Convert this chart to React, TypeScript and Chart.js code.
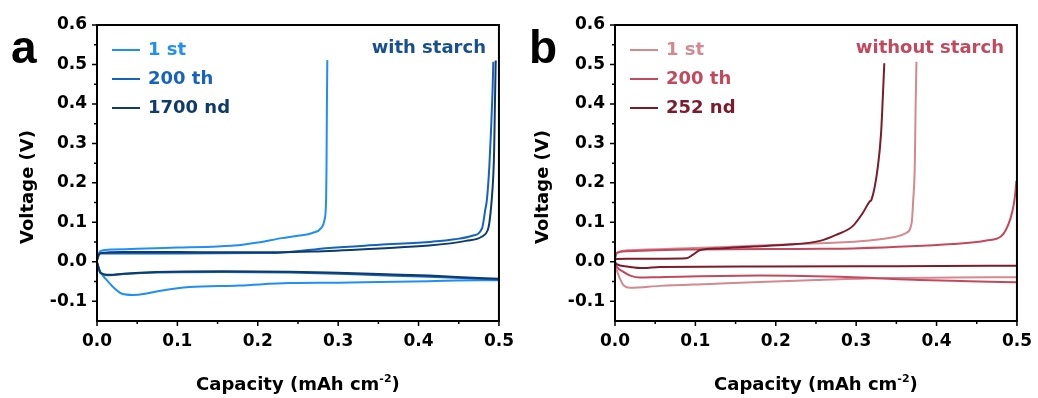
import React, { useEffect, useRef } from 'react';
import { Chart, registerables } from 'chart.js';
Chart.register(...registerables);

// ---- axis ticks ----
const xTicks = [0, 0.1, 0.2, 0.3, 0.4, 0.5];
const xMinor = [0.05, 0.15, 0.25, 0.35, 0.45];
const yTicks = [-0.1, 0, 0.1, 0.2, 0.3, 0.4, 0.5, 0.6];
const yMinor = [-0.05, 0.05, 0.15, 0.25, 0.35, 0.45, 0.55];

// ---- panel a (with starch) ----
const a1ChargeCap = [0, 0.002, 0.004, 0.02, 0.05, 0.1, 0.15, 0.17, 0.2, 0.23, 0.25, 0.268, 0.279, 0.283, 0.285, 0.2855, 0.286, 0.2865];
const a1ChargeV = [0.006, 0.02, 0.027, 0.031, 0.033, 0.036, 0.039, 0.041, 0.049, 0.06, 0.066, 0.073, 0.086, 0.106, 0.157, 0.24, 0.4, 0.511];
const a1DisCap = [0, 0.002, 0.004, 0.012, 0.02, 0.031, 0.045, 0.06, 0.074, 0.1, 0.115, 0.177, 0.239, 0.3, 0.351, 0.413, 0.475, 0.5];
const a1DisV = [-0.002, -0.014, -0.025, -0.046, -0.064, -0.081, -0.084, -0.081, -0.075, -0.067, -0.064, -0.06, -0.054, -0.053, -0.051, -0.049, -0.047, -0.047];

const a200ChargeCap = [0, 0.002, 0.005, 0.03, 0.1, 0.2, 0.227, 0.289, 0.351, 0.417, 0.445, 0.467, 0.479, 0.483, 0.485, 0.488, 0.49, 0.492, 0.493];
const a200ChargeV = [0.004, 0.016, 0.021, 0.021, 0.021, 0.022, 0.023, 0.035, 0.043, 0.051, 0.057, 0.066, 0.085, 0.132, 0.157, 0.24, 0.326, 0.43, 0.507];
const a200DisCap = [0, 0.002, 0.004, 0.016, 0.033, 0.074, 0.157, 0.239, 0.3, 0.351, 0.413, 0.475, 0.5];
const a200DisV = [-0.002, -0.016, -0.028, -0.034, -0.031, -0.027, -0.026, -0.027, -0.03, -0.034, -0.038, -0.043, -0.045];

const a1700ChargeCap = [0, 0.002, 0.004, 0.033, 0.1, 0.157, 0.227, 0.268, 0.351, 0.413, 0.459, 0.479, 0.486, 0.488, 0.491, 0.493, 0.494, 0.495, 0.496];
const a1700ChargeV = [0.004, 0.017, 0.022, 0.025, 0.025, 0.024, 0.024, 0.026, 0.034, 0.041, 0.053, 0.064, 0.08, 0.098, 0.157, 0.22, 0.28, 0.4, 0.51];
const a1700DisCap = [0, 0.002, 0.004, 0.016, 0.033, 0.074, 0.157, 0.239, 0.3, 0.351, 0.413, 0.475, 0.5];
const a1700DisV = [-0.002, -0.015, -0.027, -0.033, -0.03, -0.026, -0.024, -0.025, -0.028, -0.031, -0.035, -0.041, -0.043];

// ---- panel b (without starch) ----
const b1ChargeCap = [0, 0.002, 0.015, 0.097, 0.18, 0.255, 0.317, 0.346, 0.362, 0.369, 0.371, 0.373, 0.374, 0.375];
const b1ChargeV = [0.008, 0.022, 0.029, 0.035, 0.041, 0.047, 0.054, 0.062, 0.073, 0.098, 0.157, 0.25, 0.4, 0.507];
const b1DisCap = [0, 0.002, 0.005, 0.01, 0.019, 0.056, 0.118, 0.18, 0.255, 0.338, 0.42, 0.5];
const b1DisV = [-0.002, -0.02, -0.037, -0.058, -0.066, -0.061, -0.056, -0.051, -0.046, -0.041, -0.04, -0.039];

const b200ChargeCap = [0, 0.002, 0.015, 0.089, 0.255, 0.296, 0.42, 0.462, 0.48, 0.486, 0.492, 0.496, 0.498, 0.4993];
const b200ChargeV = [0.01, 0.022, 0.027, 0.031, 0.033, 0.034, 0.045, 0.054, 0.064, 0.08, 0.11, 0.145, 0.175, 0.205];
const b200DisCap = [0, 0.002, 0.01, 0.019, 0.031, 0.056, 0.18, 0.296, 0.379, 0.44, 0.5];
const b200DisV = [-0.002, -0.012, -0.025, -0.035, -0.04, -0.039, -0.035, -0.039, -0.046, -0.049, -0.052];

const b252ChargeCap = [0, 0.002, 0.015, 0.06, 0.089, 0.097, 0.106, 0.13, 0.172, 0.213, 0.255, 0.275, 0.296, 0.308, 0.317, 0.319, 0.327, 0.331, 0.333, 0.335];
const b252ChargeV = [0.004, 0.007, 0.008, 0.008, 0.009, 0.018, 0.03, 0.034, 0.039, 0.043, 0.053, 0.068, 0.091, 0.123, 0.153, 0.157, 0.241, 0.326, 0.41, 0.503];
const b252DisCap = [0, 0.002, 0.015, 0.035, 0.056, 0.18, 0.35, 0.5];
const b252DisV = [0.0, -0.006, -0.012, -0.016, -0.013, -0.012, -0.011, -0.01];

const aLabels = ['1 st', '200 th', '1700 nd'];
const bLabels = ['1 st', '200 th', '252 nd'];
const aColors = ['#1f8ef5', '#1563bd', '#0e3b6c'];
const bColors = ['#d48890', '#c2495d', '#7a1c2b'];

const FONT = "'DejaVu Sans', sans-serif";

const pts = (xs: number[], ys: number[]) => xs.map((x, i) => ({ x, y: ys[i] }));

type PanelDef = {
  letter: string;
  note: string;
  noteColor: string;
  labels: string[];
  colors: string[];
  curves: [number[], number[], number[], number[]][];
  yTitleX: number;
};

const panelA: PanelDef = {
  letter: 'a',
  note: 'with starch',
  noteColor: '#174f8f',
  labels: aLabels,
  colors: aColors,
  curves: [
    [a1ChargeCap, a1ChargeV, a1DisCap, a1DisV],
    [a200ChargeCap, a200ChargeV, a200DisCap, a200DisV],
    [a1700ChargeCap, a1700ChargeV, a1700DisCap, a1700DisV],
  ],
  yTitleX: 28,
};

const panelB: PanelDef = {
  letter: 'b',
  note: 'without starch',
  noteColor: '#c2495d',
  labels: bLabels,
  colors: bColors,
  curves: [
    [b1ChargeCap, b1ChargeV, b1DisCap, b1DisV],
    [b200ChargeCap, b200ChargeV, b200DisCap, b200DisV],
    [b252ChargeCap, b252ChargeV, b252DisCap, b252DisV],
  ],
  yTitleX: 25,
};

const decorPlugin = {
  id: 'decor',
  afterDatasetsDraw(chart: any, _args: any, opts: any) {
    const { ctx, chartArea } = chart;
    const { left, right, top, bottom } = chartArea;
    const xs = chart.scales.x;
    const ys = chart.scales.y;
    const def: PanelDef = opts.def;
    ctx.save();
    // frame
    ctx.strokeStyle = '#000';
    ctx.lineWidth = 2;
    ctx.strokeRect(left, top, right - left, bottom - top);
    // ticks
    ctx.lineWidth = 1.5;
    ctx.beginPath();
    xTicks.forEach((v) => {
      const p = xs.getPixelForValue(v);
      ctx.moveTo(p, bottom);
      ctx.lineTo(p, bottom + 5);
    });
    xMinor.forEach((v) => {
      const p = xs.getPixelForValue(v);
      ctx.moveTo(p, bottom);
      ctx.lineTo(p, bottom + 3);
    });
    yTicks.forEach((v) => {
      const p = ys.getPixelForValue(v);
      ctx.moveTo(left, p);
      ctx.lineTo(left - 5, p);
    });
    yMinor.forEach((v) => {
      const p = ys.getPixelForValue(v);
      ctx.moveTo(left, p);
      ctx.lineTo(left - 3, p);
    });
    ctx.stroke();

    // panel letter
    ctx.fillStyle = '#000';
    ctx.font = "bold 46px 'Liberation Sans', Arial, sans-serif";
    ctx.textAlign = 'left';
    ctx.textBaseline = 'alphabetic';
    ctx.fillText(def.letter, 11, 63);

    // note
    ctx.font = `bold 18px ${FONT}`;
    ctx.fillStyle = def.noteColor;
    ctx.textAlign = 'right';
    ctx.fillText(def.note, right - 13, 53);

    // legend
    ctx.textAlign = 'left';
    def.labels.forEach((lab, i) => {
      const yb = 55 + i * 29;
      ctx.strokeStyle = def.colors[i];
      ctx.lineWidth = 2;
      ctx.beginPath();
      ctx.moveTo(left + 15, yb - 5);
      ctx.lineTo(left + 43, yb - 5);
      ctx.stroke();
      ctx.fillStyle = def.colors[i];
      ctx.fillText(lab, left + 51, yb);
    });

    // y title
    ctx.fillStyle = '#000';
    ctx.save();
    ctx.translate(def.yTitleX, 187);
    ctx.rotate(-Math.PI / 2);
    ctx.textAlign = 'center';
    ctx.textBaseline = 'middle';
    ctx.font = `bold 18px ${FONT}`;
    ctx.fillText('Voltage (V)', 0, 0);
    ctx.restore();

    // x title with superscript
    const main = 'Capacity (mAh cm';
    const sup = '-2';
    const tail = ')';
    ctx.font = `bold 18px ${FONT}`;
    const wMain = ctx.measureText(main).width;
    const wTail = ctx.measureText(tail).width;
    ctx.font = `bold 11px ${FONT}`;
    const wSup = ctx.measureText(sup).width;
    const total = wMain + wSup + wTail;
    let x0 = (left + right) / 2 - total / 2;
    const yb = 390;
    ctx.textAlign = 'left';
    ctx.textBaseline = 'alphabetic';
    ctx.font = `bold 18px ${FONT}`;
    ctx.fillText(main, x0, yb);
    x0 += wMain;
    ctx.font = `bold 11px ${FONT}`;
    ctx.fillText(sup, x0, yb - 8);
    x0 += wSup;
    ctx.font = `bold 18px ${FONT}`;
    ctx.fillText(tail, x0, yb);
    ctx.restore();
  },
};

function Panel({ def, left }: { def: PanelDef; left: number }) {
  const ref = useRef<HTMLCanvasElement | null>(null);
  useEffect(() => {
    if (!ref.current) return;
    const datasets: any[] = [];
    def.curves.forEach((c, i) => {
      datasets.push({
        data: pts(c[0], c[1]),
        borderColor: def.colors[i],
        borderWidth: 2,
        pointRadius: 0,
        cubicInterpolationMode: 'monotone',
        order: 3 - i,
      });
      datasets.push({
        data: pts(c[2], c[3]),
        borderColor: def.colors[i],
        borderWidth: 2,
        pointRadius: 0,
        cubicInterpolationMode: 'monotone',
        order: 3 - i,
      });
    });
    const tickFont = { family: FONT, size: 17, weight: 'bold' as const };
    const chart = new Chart(ref.current, {
      type: 'scatter',
      data: { datasets },
      options: {
        animation: false,
        responsive: false,
        maintainAspectRatio: false,
        showLine: true,
        layout: { padding: { top: 25, right: 19, bottom: 0, left: 0 } },
        plugins: {
          legend: { display: false },
          tooltip: { enabled: false },
          decor: { def },
        } as any,
        scales: {
          x: {
            type: 'linear',
            min: 0,
            max: 0.5,
            afterBuildTicks: (s: any) => {
              s.ticks = xTicks.map((v) => ({ value: v }));
            },
            afterFit: (s: any) => {
              s.height = 77;
            },
            grid: { display: false, drawTicks: true, tickLength: 5 },
            border: { display: false },
            ticks: {
              padding: 5,
              color: '#000',
              font: tickFont,
              maxRotation: 0,
              autoSkip: false,
              callback: (v: any) => Number(v).toFixed(1),
            },
          },
          y: {
            type: 'linear',
            min: -0.15,
            max: 0.6,
            afterBuildTicks: (s: any) => {
              s.ticks = yTicks.map((v) => ({ value: v }));
            },
            afterFit: (s: any) => {
              s.width = 97;
            },
            grid: { display: false, drawTicks: true, tickLength: 5 },
            border: { display: false },
            ticks: {
              padding: 5,
              color: '#000',
              font: tickFont,
              autoSkip: false,
              callback: (v: any) => Number(v).toFixed(1),
            },
          },
        },
      } as any,
      plugins: [decorPlugin as any],
    });
    return () => chart.destroy();
  }, [def]);
  return (
    <canvas
      ref={ref}
      width={519}
      height={398}
      style={{ position: 'absolute', left, top: 0, width: 519, height: 398, display: 'block' }}
    />
  );
}

export default function App() {
  return (
    <div style={{ position: 'absolute', left: 0, top: 0, width: 1038, height: 398, background: '#fff' }}>
      <Panel def={panelA} left={0} />
      <Panel def={panelB} left={518} />
    </div>
  );
}
